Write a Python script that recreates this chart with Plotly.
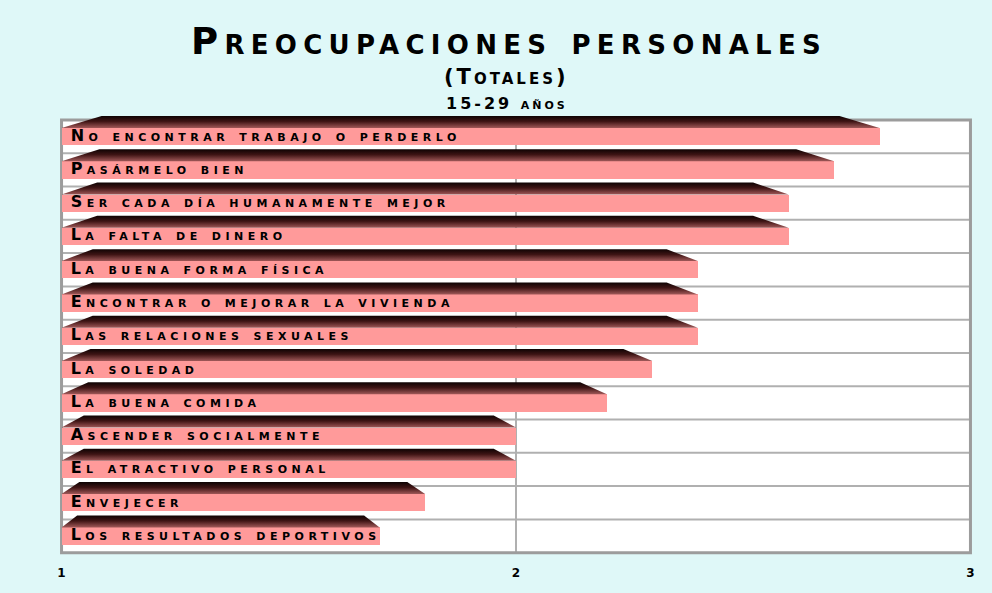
import plotly.graph_objects as go

labels = ["No encontrar trabajo o perderlo", "Pasármelo bien",
          "Ser cada día humanamente mejor", "La falta de dinero",
          "La buena forma física", "Encontrar o mejorar la vivienda",
          "Las relaciones sexuales", "La soledad", "La buena comida",
          "Ascender socialmente", "El atractivo personal", "Envejecer",
          "Los resultados deportivos"]
values = [2.8, 2.7, 2.6, 2.6, 2.4, 2.4, 2.4, 2.3, 2.2, 2.0, 2.0, 1.8, 1.7]
tick_vals = [1, 2, 3]
tick_text = ["1", "2", "3"]

BASE = 1
FONT = "DejaVu Sans"
BG = "#dff8f8"
FRONT = "#ff9a9a"
FRONT_W = 0.52
TOP_LO = 0.26   # front top offset from row centre
TOP_HI = 0.62   # top face upper offset
SHRINK = 0.049

rows = list(range(len(labels)))

fig = go.Figure()

# front faces
fig.add_trace(go.Bar(
    y=rows, x=[v - BASE for v in values], base=BASE, orientation="h",
    width=FRONT_W, marker=dict(color=FRONT, line=dict(width=0)),
    hoverinfo="skip", showlegend=False))

# top faces with vertical gradient
for r, v in zip(rows, values):
    L = v - BASE
    xs = [BASE, BASE + SHRINK * L, v - SHRINK * L, v, BASE]
    ys = [r - TOP_LO, r - TOP_HI, r - TOP_HI, r - TOP_LO, r - TOP_LO]
    fig.add_trace(go.Scatter(
        x=xs, y=ys, mode="lines", fill="toself", line=dict(width=0),
        fillgradient=dict(type="vertical", start=r - TOP_HI, stop=r - TOP_LO,
                          colorscale=[[0, "#0e0303"], [0.45, "#3e1414"],
                                      [1, "#a05858"]]),
        hoverinfo="skip", showlegend=False))

# labels
fig.add_trace(go.Scatter(
    x=[BASE + 0.02] * len(labels), y=rows, mode="text",
    text=['<span style="letter-spacing:4.5px">%s</span>' % t for t in labels],
    textposition="middle right", cliponaxis=False,
    textfont=dict(family=FONT, size=16, color="black", weight="bold",
                  variant="small-caps"),
    hoverinfo="skip", showlegend=False))

n = len(labels)
shapes = [dict(type="rect", layer="below", xref="x", yref="y",
               x0=tick_vals[0], x1=tick_vals[-1], y0=-0.5, y1=n - 0.5,
               fillcolor="white", line=dict(width=0))]
for k in range(n - 1):
    shapes.append(dict(type="line", layer="below", xref="x", yref="y",
                       x0=tick_vals[0], x1=tick_vals[-1], y0=k + 0.5, y1=k + 0.5,
                       line=dict(color="#b0b0b0", width=2)))
for tv in tick_vals[1:-1]:
    shapes.append(dict(type="line", layer="below", xref="x", yref="y",
                       x0=tv, x1=tv, y0=-0.5, y1=n - 0.5,
                       line=dict(color="#b0b0b0", width=2)))
shapes.append(dict(type="rect", layer="below", xref="x", yref="y",
                   x0=tick_vals[0], x1=tick_vals[-1], y0=-0.5, y1=n - 0.5,
                   line=dict(color="#9c9c9c", width=3)))

title_font = dict(family=FONT, color="black", weight="bold", variant="small-caps")
annotations = [
    dict(text='<span style="letter-spacing:6.3px">Preocupaciones personales</span>',
         xref="paper", yref="paper", x=0.492, y=1.166, showarrow=False,
         xanchor="center", yanchor="middle", font=dict(size=37, **title_font)),
    dict(text='<span style="letter-spacing:3px">(Totales)</span>',
         xref="paper", yref="paper", x=0.49, y=1.086, showarrow=False,
         xanchor="center", yanchor="middle", font=dict(size=21, **title_font)),
    dict(text='<span style="letter-spacing:3px">15-29 años</span>',
         xref="paper", yref="paper", x=0.49, y=1.027, showarrow=False,
         xanchor="center", yanchor="middle", font=dict(size=16, **title_font)),
]

fig.update_layout(
    width=992, height=593,
    margin=dict(l=57, r=17, t=115, b=37),
    paper_bgcolor=BG, plot_bgcolor=BG,
    bargap=0, barmode="overlay",
    shapes=shapes, annotations=annotations,
    xaxis=dict(range=[0.99, 3.01], tickvals=tick_vals, ticktext=tick_text,
               showgrid=False, zeroline=False, showline=False, ticks="",
               ticklabelstandoff=8,
               tickfont=dict(family=FONT, size=12, color="black", weight="bold")),
    yaxis=dict(range=[n - 0.4, -0.65], showgrid=False, zeroline=False,
               showline=False, showticklabels=False, ticks=""),
)

fig.write_html("out.html", config={"displayModeBar": False},
               post_script="document.body.style.margin='0';"
                           "document.body.style.overflow='hidden';")
